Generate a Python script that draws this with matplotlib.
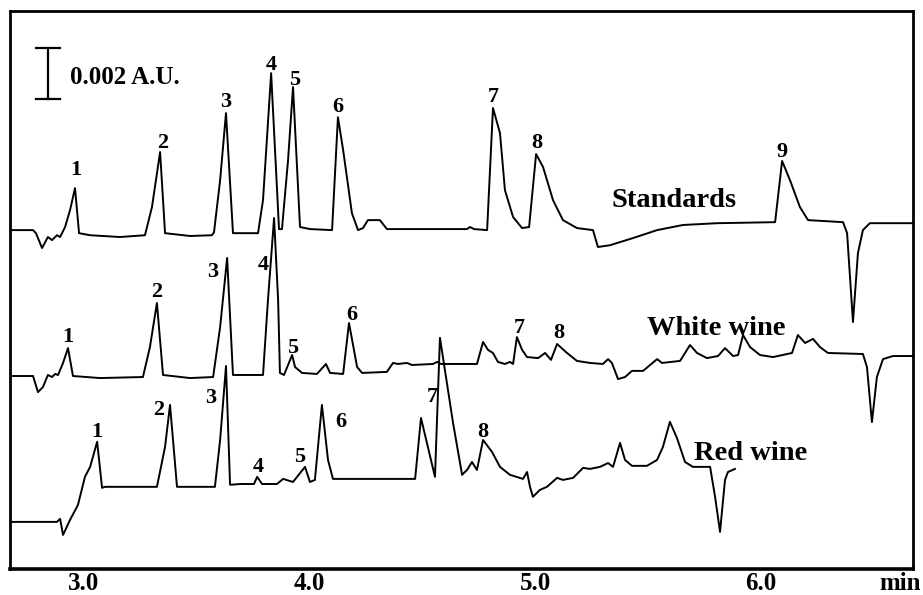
import numpy as np
import matplotlib
matplotlib.use("Agg")
import matplotlib.pyplot as plt

# ---------------- data ----------------
# time in minutes, signal in mAU relative to each trace's baseline
std_time = [2.672, 2.774, 2.787, 2.814, 2.840, 2.858, 2.880, 2.894, 2.916, 2.938, 2.960, 2.978,
            3.027, 3.159, 3.270, 3.301, 3.337, 3.359, 3.470, 3.567, 3.576, 3.603, 3.629, 3.660,
            3.771, 3.793, 3.829, 3.864, 3.877, 3.904, 3.926, 3.957, 4.001, 4.099, 4.125, 4.148,
            4.187, 4.214, 4.236, 4.258, 4.311, 4.342, 4.697, 4.710, 4.728, 4.786, 4.812, 4.843,
            4.865, 4.901, 4.941, 4.972, 5.003, 5.034, 5.078, 5.122, 5.184, 5.255, 5.277, 5.331,
            5.433, 5.539, 5.654, 5.805, 6.062, 6.093, 6.128, 6.172, 6.208, 6.363, 6.381, 6.407,
            6.429, 6.451, 6.482, 6.673]
std_signal = [0.00, 0.00, -0.12, -0.70, -0.27, -0.39, -0.20, -0.27, 0.12, 0.78, 1.64, -0.12,
              -0.20, -0.27, -0.20, 0.90, 3.05, -0.12, -0.23, -0.20, -0.08, 1.95, 4.57, -0.12,
              -0.12, 1.17, 6.13, 0.04, 0.04, 2.73, 5.59, 0.12, 0.04, 0.00, 4.41, 3.13,
              0.66, 0.00, 0.08, 0.39, 0.39, 0.04, 0.04, 0.12, 0.04, 0.00, 4.77, 3.79,
              1.56, 0.51, 0.08, 0.12, 2.97, 2.46, 1.17, 0.39, 0.08, 0.00, -0.66, -0.59,
              -0.31, 0.00, 0.20, 0.27, 0.31, 2.70, 1.95, 0.90, 0.39, 0.31, -0.12, -3.59,
              -0.90, 0.00, 0.27, 0.27]

white_time = [2.672, 2.774, 2.796, 2.818, 2.840, 2.858, 2.872, 2.885, 2.907, 2.929, 2.951, 3.071,
              3.261, 3.292, 3.323, 3.350, 3.470, 3.572, 3.603, 3.634, 3.660, 3.793, 3.815, 3.842,
              3.860, 3.868, 3.886, 3.922, 3.935, 3.966, 4.032, 4.072, 4.090, 4.148, 4.174, 4.210,
              4.232, 4.342, 4.369, 4.391, 4.431, 4.453, 4.546, 4.564, 4.582, 4.741, 4.768, 4.790,
              4.812, 4.834, 4.865, 4.887, 4.901, 4.918, 4.941, 4.963, 5.012, 5.043, 5.069, 5.096,
              5.140, 5.184, 5.242, 5.299, 5.322, 5.339, 5.366, 5.397, 5.428, 5.477, 5.539, 5.561,
              5.641, 5.685, 5.716, 5.760, 5.809, 5.840, 5.876, 5.898, 5.920, 5.951, 5.995, 6.053,
              6.137, 6.163, 6.195, 6.230, 6.261, 6.296, 6.451, 6.469, 6.491, 6.513, 6.540, 6.584,
              6.673]
white_signal = [0.00, 0.00, -0.63, -0.43, 0.04, -0.04, 0.08, 0.04, 0.51, 1.09, 0.00, -0.08,
                -0.04, 1.13, 2.85, 0.04, -0.08, -0.04, 1.91, 4.61, 0.04, 0.04, 2.97, 6.17,
                2.97, 0.12, 0.04, 0.82, 0.35, 0.12, 0.08, 0.47, 0.12, 0.08, 2.07, 0.35,
                0.12, 0.16, 0.51, 0.47, 0.51, 0.43, 0.47, 0.55, 0.47, 0.47, 1.33, 1.02,
                0.90, 0.55, 0.47, 0.55, 0.47, 1.52, 1.02, 0.74, 0.70, 0.90, 0.63, 1.25,
                0.90, 0.59, 0.51, 0.47, 0.66, 0.51, -0.12, -0.04, 0.20, 0.20, 0.66, 0.51,
                0.59, 1.21, 0.90, 0.70, 0.78, 1.09, 0.78, 0.82, 1.60, 1.13, 0.82, 0.74,
                0.90, 1.60, 1.29, 1.45, 1.13, 0.90, 0.86, 0.35, -1.80, -0.04, 0.66, 0.78,
                0.78]

red_time = [2.672, 2.880, 2.894, 2.907, 2.938, 2.973, 3.004, 3.027, 3.058, 3.080, 3.093, 3.204,
            3.323, 3.359, 3.381, 3.412, 3.580, 3.603, 3.629, 3.647, 3.691, 3.753, 3.767, 3.789,
            3.855, 3.882, 3.926, 3.979, 4.001, 4.023, 4.054, 4.081, 4.103, 4.467, 4.493, 4.555,
            4.577, 4.635, 4.675, 4.697, 4.719, 4.741, 4.768, 4.808, 4.843, 4.887, 4.945, 4.963,
            4.976, 4.989, 5.020, 5.051, 5.096, 5.122, 5.167, 5.211, 5.242, 5.286, 5.322, 5.344,
            5.375, 5.397, 5.428, 5.494, 5.539, 5.565, 5.596, 5.627, 5.663, 5.698, 5.774, 5.796,
            5.818, 5.840, 5.853, 5.884]
red_signal = [0.00, 0.00, 0.12, -0.51, 0.08, 0.66, 1.76, 2.15, 3.13, 1.33, 1.37, 1.37,
              1.37, 2.93, 4.57, 1.37, 1.37, 3.20, 6.09, 1.45, 1.48, 1.48, 1.76, 1.48,
              1.48, 1.68, 1.56, 2.15, 1.56, 1.64, 4.57, 2.42, 1.68, 1.68, 4.06, 1.76,
              7.19, 3.87, 1.84, 2.03, 2.34, 2.03, 3.20, 2.73, 2.15, 1.84, 1.68, 1.95,
              1.37, 0.98, 1.25, 1.37, 1.72, 1.64, 1.72, 2.11, 2.07, 2.15, 2.30, 2.15,
              3.09, 2.42, 2.19, 2.19, 2.42, 2.93, 3.91, 3.28, 2.34, 2.15, 2.15, 0.98,
              -0.39, 1.64, 1.95, 2.07]

# baseline levels of the stacked traces (mAU above the bottom of the frame)
trace_names = ["Standards", "White wine", "Red wine"]
trace_offsets = [13.24, 7.54, 1.84]

peak_numbers_std = ["1", "2", "3", "4", "5", "6", "7", "8", "9"]
peak_numbers_white = ["1", "2", "3", "4", "5", "6", "7", "8"]
peak_numbers_red = ["1", "2", "3", "4", "5", "6", "7", "8"]

x_ticks = [3.0, 4.0, 5.0, 6.0]
x_tick_labels = ["3.0", "4.0", "5.0", "6.0"]
x_unit = "min"
scale_bar_value = 2.0          # mAU  (0.002 A.U.)
scale_bar_label = "0.002 A.U."

# ---------------- layout ----------------
std_label_pos = [(2.965, 15.59), (3.350, 16.64), (3.629, 18.24), (3.829, 19.69), (3.935, 19.10),
                 (4.125, 18.05), (4.812, 18.44), (5.007, 16.64), (6.093, 16.29)]
white_label_pos = [(2.929, 9.06), (3.323, 10.82), (3.572, 11.60), (3.793, 11.88), (3.926, 8.63),
                   (4.187, 9.92), (4.927, 9.41), (5.105, 9.22)]
red_label_pos = [(3.058, 5.35), (3.332, 6.21), (3.563, 6.68), (3.771, 3.98), (3.957, 4.38),
                 (4.139, 5.74), (4.542, 6.72), (4.768, 5.35)]
name_pos = [(5.614, 14.41), (5.800, 9.41), (5.955, 4.53)]

plt.rcParams["font.family"] = ["Liberation Serif", "DejaVu Serif"]
plt.rcParams["font.weight"] = "bold"

fig = plt.figure(figsize=(9.23, 5.95), dpi=100)
ax = fig.add_axes([10 / 923, 26 / 595, 903 / 923, 558 / 595])

series = [(std_time, std_signal), (white_time, white_signal), (red_time, red_signal)]
for (t, s), off in zip(series, trace_offsets):
    ax.plot(t, np.asarray(s) + off, color="black", lw=1.4, solid_joinstyle="round")

for labels, poss in [(peak_numbers_std, std_label_pos),
                     (peak_numbers_white, white_label_pos),
                     (peak_numbers_red, red_label_pos)]:
    for lab, (x, y) in zip(labels, poss):
        ax.text(x, y, lab, ha="center", va="center", fontsize=16, fontweight="bold")

for name, (x, y) in zip(trace_names, name_pos):
    ax.text(x, y, name, ha="center", va="center", fontsize=20.5, fontweight="bold")

# scale bar
bar_x, bar_y0 = 2.840, 18.36
ax.plot([bar_x, bar_x], [bar_y0, bar_y0 + scale_bar_value], color="black", lw=1.6)
ax.plot([2.787, 2.893], [bar_y0, bar_y0], color="black", lw=1.6)
ax.plot([2.787, 2.893], [bar_y0 + scale_bar_value, bar_y0 + scale_bar_value], color="black", lw=1.6)
ax.text(2.938, 19.2, scale_bar_label, ha="left", va="center", fontsize=18, fontweight="bold")

ax.set_xlim(2.672, 6.673)
ax.set_ylim(0, 21.8)
ax.set_xticks(x_ticks)
ax.set_xticklabels(x_tick_labels, fontsize=18, fontweight="bold")
ax.tick_params(axis="x", length=0, pad=2)
ax.set_yticks([])
for sp in ax.spines.values():
    sp.set_linewidth(2.0)
ax.spines["bottom"].set_linewidth(2.6)
fig.text(900 / 923, 1 - 584 / 595, x_unit, ha="center", va="center", fontsize=18, fontweight="bold")

fig.savefig("out.png", dpi=100)
